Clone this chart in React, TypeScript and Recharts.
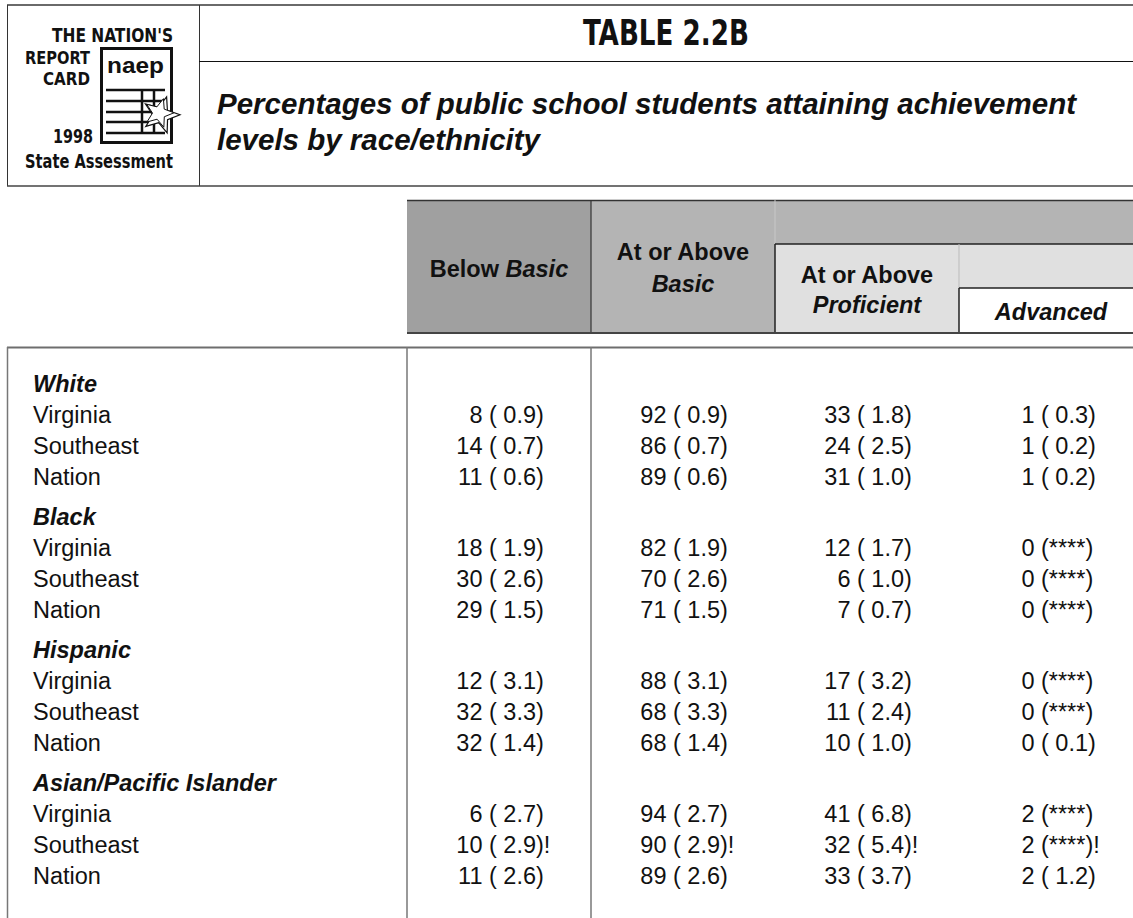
import React from "react";
import { ScatterChart, Scatter, XAxis, YAxis } from "recharts";

const columns = ["Below Basic", "At or Above Basic", "At or Above Proficient", "Advanced"];
const groups = ["White", "Black", "Hispanic", "Asian/Pacific Islander"];
const places = ["Virginia", "Southeast", "Nation"];

// rows: each group x (Virginia, Southeast, Nation)
const belowBasic = [8, 14, 11, 18, 30, 29, 12, 32, 32, 6, 10, 11];
const belowBasicSE = [0.9, 0.7, 0.6, 1.9, 2.6, 1.5, 3.1, 3.3, 1.4, 2.7, 2.9, 2.6];
const atOrAboveBasic = [92, 86, 89, 82, 70, 71, 88, 68, 68, 94, 90, 89];
const atOrAboveBasicSE = [0.9, 0.7, 0.6, 1.9, 2.6, 1.5, 3.1, 3.3, 1.4, 2.7, 2.9, 2.6];
const atOrAboveProficient = [33, 24, 31, 12, 6, 7, 17, 11, 10, 41, 32, 33];
const atOrAboveProficientSE = [1.8, 2.5, 1.0, 1.7, 1.0, 0.7, 3.2, 2.4, 1.0, 6.8, 5.4, 3.7];
const advanced = [1, 1, 1, 0, 0, 0, 0, 0, 0, 2, 2, 2];
// null = standard error could not be estimated (****)
const advancedSE = [0.3, 0.2, 0.2, null, null, null, null, null, 0.1, null, null, 1.2];
// "!" = interpret with caution
const caution = [false, false, false, false, false, false, false, false, false, false, true, false];

const series = [
  { values: belowBasic, se: belowBasicSE },
  { values: atOrAboveBasic, se: atOrAboveBasicSE },
  { values: atOrAboveProficient, se: atOrAboveProficientSE },
  { values: advanced, se: advancedSE },
];

const sans = "'Liberation Sans', Arial, Helvetica, sans-serif";
const narrow = "'Liberation Sans Narrow', 'Arial Narrow', 'DejaVu Sans Condensed', sans-serif";
const bodySize = 23.5;

const groupData = (g: number) => {
  const pts: any[] = [{ row: groups[g], col: columns[0], header: true }];
  places.forEach((p, j) => {
    const r = g * 3 + j;
    series.forEach((s, c) => {
      pts.push({ row: p, col: columns[c], value: s.values[r], se: s.se[r], caution: caution[r] });
    });
  });
  return pts;
};

const CellText = (props: any) => {
  const { cx, cy, payload } = props;
  if (payload.header || cx == null) return <g />;
  const px = cx - 10;
  const se = payload.se == null ? "(****)" : `( ${payload.se.toFixed(1)})`;
  return (
    <g fontFamily={sans} fontSize={bodySize} fill="#111">
      <text x={px - 6.5} y={cy} dy="0.355em" textAnchor="end">
        {payload.value}
      </text>
      <text x={px} y={cy} dy="0.355em" textAnchor="start" xmlSpace="preserve">
        {se + (payload.caution ? "!" : "")}
      </text>
    </g>
  );
};

const RowLabel = (props: any) => {
  const { y, payload } = props;
  const isGroup = groups.includes(payload.value);
  return (
    <text
      x={33}
      y={y}
      dy="0.355em"
      textAnchor="start"
      fontFamily={sans}
      fontSize={bodySize}
      fontWeight={isGroup ? 700 : 400}
      fontStyle={isGroup ? "italic" : "normal"}
      fill="#111"
    >
      {payload.value}
    </text>
  );
};

const starPoints = (cx: number, cy: number, ro: number, ri: number, rot: number) => {
  const pts: string[] = [];
  for (let i = 0; i < 10; i++) {
    const r = i % 2 === 0 ? ro : ri;
    const a = rot + (i * Math.PI) / 5;
    pts.push(`${cx + r * Math.sin(a)},${cy - r * Math.cos(a)}`);
  }
  return pts.join(" ");
};

const Background = () => (
  <svg width={1133} height={918} style={{ position: "absolute", left: 0, top: 0 }}>
    {/* banner frame */}
    <line x1={7} x2={1133} y1={5} y2={5} stroke="#6a6a6a" strokeWidth={2} />
    <line x1={7.5} x2={7.5} y1={5} y2={186} stroke="#333" strokeWidth={1} />
    <line x1={199.5} x2={199.5} y1={5} y2={186} stroke="#333" strokeWidth={1} />
    <line x1={199} x2={1133} y1={61.5} y2={61.5} stroke="#111" strokeWidth={1.2} />
    <line x1={7} x2={1133} y1={186} y2={186} stroke="#444" strokeWidth={1.5} />

    {/* report card logo */}
    <g fontFamily={narrow} fontWeight={700} fill="#111">
      <text x={173} y={42} fontSize={20} textAnchor="end" textLength={121} lengthAdjust="spacingAndGlyphs">THE NATION'S</text>
      <text x={90} y={64} fontSize={17} textAnchor="end" textLength={65} lengthAdjust="spacingAndGlyphs">REPORT</text>
      <text x={90} y={85} fontSize={17} textAnchor="end" textLength={47} lengthAdjust="spacingAndGlyphs">CARD</text>
      <text x={93} y={143} fontSize={20} textAnchor="end" textLength={40} lengthAdjust="spacingAndGlyphs">1998</text>
      <text x={173} y={168} fontSize={20} textAnchor="end" textLength={148} lengthAdjust="spacingAndGlyphs">State Assessment</text>
    </g>
    <rect x={101.5} y={48.5} width={70} height={94} fill="#fff" stroke="#111" strokeWidth={3} />
    <text x={107} y={73} fontFamily={sans} fontWeight={900} fontSize={22} fill="#111" textLength={57} lengthAdjust="spacingAndGlyphs">naep</text>
    {[90, 101, 112, 122, 133].map((y) => (
      <line key={y} x1={106} x2={165} y1={y} y2={y} stroke="#111" strokeWidth={2.5} />
    ))}
    <line x1={142} x2={142} y1={90} y2={133} stroke="#111" strokeWidth={2.5} />
    <line x1={154} x2={154} y1={90} y2={133} stroke="#111" strokeWidth={2.5} />
    <polygon points={starPoints(161, 115, 19, 8, 0.3)} fill="#fff" stroke="#111" strokeWidth={1.2} />
    <polygon points={starPoints(159, 113, 15, 6.5, 0.3)} fill="#fff" stroke="#111" strokeWidth={1} />

    {/* titles */}
    <text x={666} y={45} textAnchor="middle" fontFamily={narrow} fontWeight={700} fontSize={35} fill="#111" textLength={166} lengthAdjust="spacingAndGlyphs">
      TABLE 2.2B
    </text>
    <g fontFamily={sans} fontWeight={700} fontStyle="italic" fontSize={29.5} fill="#111">
      <text x={217} y={113.5}>Percentages of public school students attaining achievement</text>
      <text x={217} y={150}>levels by race/ethnicity</text>
    </g>

    {/* column headers */}
    <rect x={407} y={200} width={184} height={133} fill="#a0a0a0" />
    <rect x={591} y={200} width={184} height={133} fill="#b4b4b4" />
    <rect x={775} y={200} width={368} height={44} fill="#b4b4b4" />
    <rect x={775} y={244} width={184} height={89} fill="#e0e0e0" />
    <rect x={959} y={244} width={184} height={44} fill="#e0e0e0" />
    <rect x={959} y={288} width={184} height={45} fill="#fff" />
    <line x1={407} x2={1133} y1={200.5} y2={200.5} stroke="#333" strokeWidth={1.5} />
    <line x1={591} x2={591} y1={200} y2={333} stroke="#333" strokeWidth={1.2} />
    <line x1={775} x2={775} y1={200} y2={244} stroke="#c8c8c8" strokeWidth={1} />
    <line x1={775} x2={775} y1={244} y2={333} stroke="#222" strokeWidth={1.5} />
    <line x1={775} x2={1133} y1={244} y2={244} stroke="#222" strokeWidth={1.5} />
    <line x1={959} x2={959} y1={244} y2={288} stroke="#bbb" strokeWidth={1} />
    <line x1={959} x2={959} y1={288} y2={333} stroke="#222" strokeWidth={1.5} />
    <line x1={959} x2={1133} y1={288} y2={288} stroke="#222" strokeWidth={1.5} />
    <line x1={407} x2={1133} y1={333} y2={333} stroke="#444" strokeWidth={2} />
    <g fontFamily={sans} fontWeight={700} fontSize={bodySize} fill="#111" textAnchor="middle">
      <text x={499} y={277}>
        Below <tspan fontStyle="italic">Basic</tspan>
      </text>
      <text x={683} y={260}>At or Above</text>
      <text x={683} y={292} fontStyle="italic">Basic</text>
      <text x={867} y={283}>At or Above</text>
      <text x={867} y={313} fontStyle="italic">Proficient</text>
      <text x={1051} y={320} fontStyle="italic">Advanced</text>
    </g>

    {/* body frame */}
    <line x1={7} x2={1133} y1={347.5} y2={347.5} stroke="#6e6e6e" strokeWidth={2} />
    <line x1={7.5} x2={7.5} y1={347} y2={918} stroke="#777" strokeWidth={1.5} />
    <line x1={407} x2={407} y1={347} y2={918} stroke="#777" strokeWidth={1.5} />
    <line x1={591} x2={591} y1={347} y2={918} stroke="#777" strokeWidth={1.5} />
  </svg>
);

const App = () => {
  return (
    <div style={{ position: "relative", width: 1133, height: 918, overflow: "hidden", background: "#fff" }}>
      <style>{"body{margin:0;background:#fff}"}</style>
      <Background />
      {groups.map((g, gi) => (
        <div key={g} style={{ position: "absolute", left: 0, top: 367.5 + 133 * gi }}>
          <ScatterChart width={1143} height={133} margin={{ top: 0, right: 0, bottom: 9, left: 0 }}>
            <XAxis type="category" dataKey="col" allowDuplicatedCategory={false} hide />
            <YAxis
              type="category"
              dataKey="row"
              allowDuplicatedCategory={false}
              reversed
              width={407}
              axisLine={false}
              tickLine={false}
              interval={0}
              tick={(p: any) => <RowLabel {...p} />}
            />
            <Scatter data={groupData(gi)} isAnimationActive={false} shape={(p: any) => <CellText {...p} />} />
          </ScatterChart>
        </div>
      ))}
    </div>
  );
};

export default App;
